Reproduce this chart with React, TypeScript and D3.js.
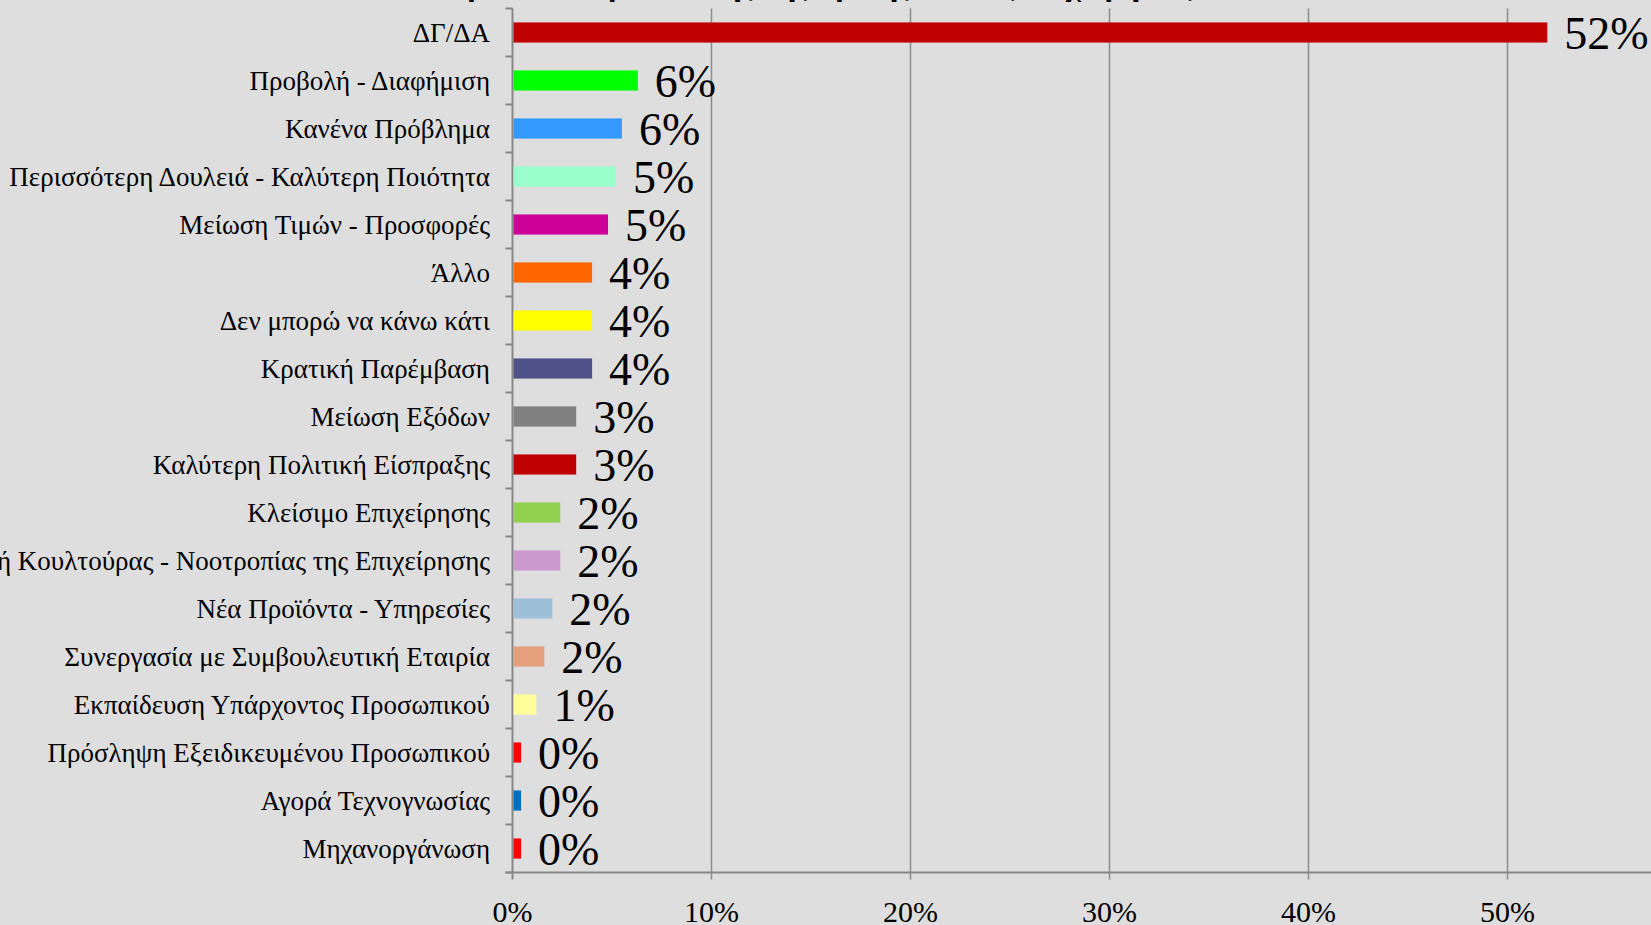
import React from "react";
import * as d3 from "d3";

const categories = [
  "ΔΓ/ΔΑ",
  "Προβολή - Διαφήμιση",
  "Κανένα Πρόβλημα",
  "Περισσότερη Δουλειά - Καλύτερη Ποιότητα",
  "Μείωση Τιμών - Προσφορές",
  "Άλλο",
  "Δεν μπορώ να κάνω κάτι",
  "Κρατική Παρέμβαση",
  "Μείωση Εξόδων ",
  "Καλύτερη Πολιτική Είσπραξης",
  "Κλείσιμο Επιχείρησης",
  "Αλλαγή Κουλτούρας - Νοοτροπίας της Επιχείρησης",
  "Νέα Προϊόντα - Υπηρεσίες",
  "Συνεργασία με Συμβουλευτική Εταιρία",
  "Εκπαίδευση Υπάρχοντος Προσωπικού",
  "Πρόσληψη Εξειδικευμένου Προσωπικού",
  "Αγορά Τεχνογνωσίας",
  "Μηχανοργάνωση",
];

const values = [
  0.52, 0.063, 0.055, 0.052, 0.048, 0.04, 0.04, 0.04, 0.032, 0.032, 0.024,
  0.024, 0.02, 0.016, 0.012, 0.0043, 0.0043, 0.0043,
];

const valueLabels = [
  "52%", "6%", "6%", "5%", "5%", "4%", "4%", "4%", "3%", "3%", "2%", "2%",
  "2%", "2%", "1%", "0%", "0%", "0%",
];

const colors = [
  "#C00000", "#00FF00", "#3399FF", "#99FFCC", "#CC0099", "#FF6600",
  "#FFFF00", "#4F5189", "#808080", "#C00000", "#92D050", "#CC99CC",
  "#9DC0D8", "#E4A07C", "#FFFF99", "#FF0000", "#0070C0", "#FF0000",
];

const xTicks = [0, 0.1, 0.2, 0.3, 0.4, 0.5, 0.6];

const title = "Τρόποι αντιμετώπισης της κρίσης από τις επιχειρήσεις";

export default function App() {
  const W = 1651;
  const H = 925;
  const left = 512.5;
  const top = 8.5;
  const bottom = 872.5;
  const x = d3.scaleLinear().domain([0, 0.6]).range([left, left + 1194]);
  const y = d3
    .scaleBand<string>()
    .domain(categories)
    .range([top, bottom])
    .paddingInner(0.58)
    .paddingOuter(0.29);
  const step = y.step();
  const font = "'Liberation Serif', 'Times New Roman', serif";
  const fmt = d3.format(".0%");

  return (
    <svg
      width={W}
      height={H}
      style={{ position: "absolute", left: 0, top: 0, background: "#DEDEDE" }}
    >
      <rect x={0} y={0} width={W} height={H} fill="#DEDEDE" />
      <text
        x={820}
        y={-5}
        textAnchor="middle"
        fontFamily={font}
        fontWeight="bold"
        fontSize={32}
        fill="#000"
      >
        {title}
      </text>
      {/* gridlines */}
      {xTicks
        .filter((t) => t > 0)
        .map((t) => (
          <line
            key={"g" + t}
            x1={x(t)}
            x2={x(t)}
            y1={top}
            y2={bottom + 7}
            stroke="#8C8C8C"
            strokeWidth={1.5}
          />
        ))}
      {/* x axis */}
      <line
        x1={left - 7}
        x2={W}
        y1={bottom}
        y2={bottom}
        stroke="#878787"
        strokeWidth={2}
      />
      <line
        x1={left}
        x2={left}
        y1={top}
        y2={bottom + 7}
        stroke="#878787"
        strokeWidth={2}
      />
      {/* y ticks at band boundaries */}
      {d3.range(categories.length + 1).map((i) => (
        <line
          key={"yt" + i}
          x1={left - 7}
          x2={left}
          y1={top + i * step}
          y2={top + i * step}
          stroke="#878787"
          strokeWidth={2}
        />
      ))}
      {xTicks.map((t) => (
        <text
          key={"xl" + t}
          x={x(t)}
          y={922}
          textAnchor="middle"
          fontFamily={font}
          fontSize={30}
          fill="#000"
        >
          {fmt(t)}
        </text>
      ))}
      {/* bars */}
      {categories.map((c, i) => (
        <rect
          key={"b" + i}
          x={x(0) + 1}
          y={y(c)!}
          width={x(values[i]) - x(0) - 1}
          height={y.bandwidth()}
          fill={colors[i]}
        />
      ))}
      {/* category labels */}
      {categories.map((c, i) => (
        <text
          key={"c" + i}
          x={490}
          y={y(c)! + y.bandwidth() / 2 + 9}
          textAnchor="end"
          fontFamily={font}
          fontSize={27}
          fill="#000"
        >
          {c}
        </text>
      ))}
      {/* value labels */}
      {categories.map((c, i) => (
        <text
          key={"v" + i}
          x={x(values[i]) + 17}
          y={y(c)! + y.bandwidth() / 2 + 16}
          fontFamily={font}
          fontSize={46}
          fill="#000"
        >
          {valueLabels[i]}
        </text>
      ))}
    </svg>
  );
}
